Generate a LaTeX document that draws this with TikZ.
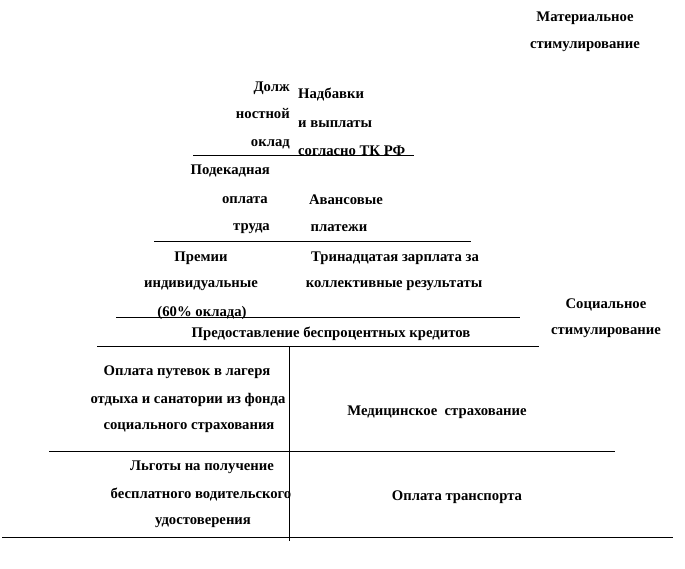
\documentclass[tikz,border=0pt]{standalone}
\usepackage{fontspec}
\setmainfont{Liberation Serif}
\begin{document}
\begin{tikzpicture}[x=1pt,y=-1pt,
  txt/.style={inner sep=0pt,yshift=-2pt,font=\fontsize{14.7}{16}\selectfont\bfseries},
  rule/.style={line width=1pt}]
\useasboundingbox (0,0) rectangle (685,568);
% top right
\node[txt] (m1) at (585,16) {Материальное};
\node[txt] (m2) at (585,45) {стимулирование};
% level 1
\node[txt,anchor=east] (d1) at (290,86) {Долж};
\node[txt,anchor=east] (d2) at (290,112) {ностной};
\node[txt,anchor=east] (d3) at (290,142) {оклад};
\node[txt,anchor=west] (n1) at (298,93) {Надбавки};
\node[txt,anchor=west] (n2) at (298,122) {и выплаты};
\node[txt,anchor=west] (n3) at (298,149) {согласно ТК РФ};
\coordinate (l1a) at (193,155); \coordinate (l1b) at (414,155);
\draw[rule] (l1a) -- (l1b);
% level 2
\node[txt,anchor=east] (p1) at (270,169) {Подекадная};
\node[txt,anchor=east] (p2) at (268,198) {оплата};
\node[txt,anchor=east] (p3) at (270,227) {труда};
\node[txt] (a1) at (346,198) {Авансовые};
\node[txt] (a2) at (339,226) {платежи};
\coordinate (l2a) at (154,241); \coordinate (l2b) at (471,241);
\draw[rule] (l2a) -- (l2b);
% level 3
\node[txt] (r1) at (201,256) {Премии};
\node[txt] (r2) at (201,284) {индивидуальные};
\node[txt] (r3) at (202,311) {(60\% оклада)};
\node[txt] (t1) at (395,256) {Тринадцатая зарплата за};
\node[txt] (t2) at (394,284) {коллективные результаты};
\coordinate (l3a) at (116,317); \coordinate (l3b) at (520,317);
\draw[rule] (l3a) -- (l3b);
% level 4
\node[txt] (k1) at (331,332) {Предоставление беспроцентных кредитов};
\node[txt] (s1) at (606,303) {Социальное};
\node[txt] (s2) at (606,331) {стимулирование};
\coordinate (l4a) at (97,346); \coordinate (l4b) at (539,346);
\draw[rule] (l4a) -- (l4b);
% level 5
\node[txt] (o1) at (187,370) {Оплата путевок в лагеря};
\node[txt] (o2) at (188,398) {отдыха и санатории из фонда};
\node[txt] (o3) at (189,426) {социального страхования};
\node[txt] (med) at (437,410) {Медицинское\ \ страхование};
\coordinate (l5a) at (49,451); \coordinate (l5b) at (615,451);
\draw[rule] (l5a) -- (l5b);
% level 6
\node[txt] (g1) at (202,465) {Льготы на получение};
\node[txt] (g2) at (201,493) {бесплатного водительского};
\node[txt] (g3) at (203,521) {удостоверения};
\node[txt] (tr) at (457,495) {Оплата транспорта};
\coordinate (l6a) at (2,537); \coordinate (l6b) at (673,537);
\draw[rule] (l6a) -- (l6b);
% vertical divider
\coordinate (va) at (289,346); \coordinate (vb) at (289,541);
\draw[rule] (va) -- (vb);
\end{tikzpicture}
\end{document}
